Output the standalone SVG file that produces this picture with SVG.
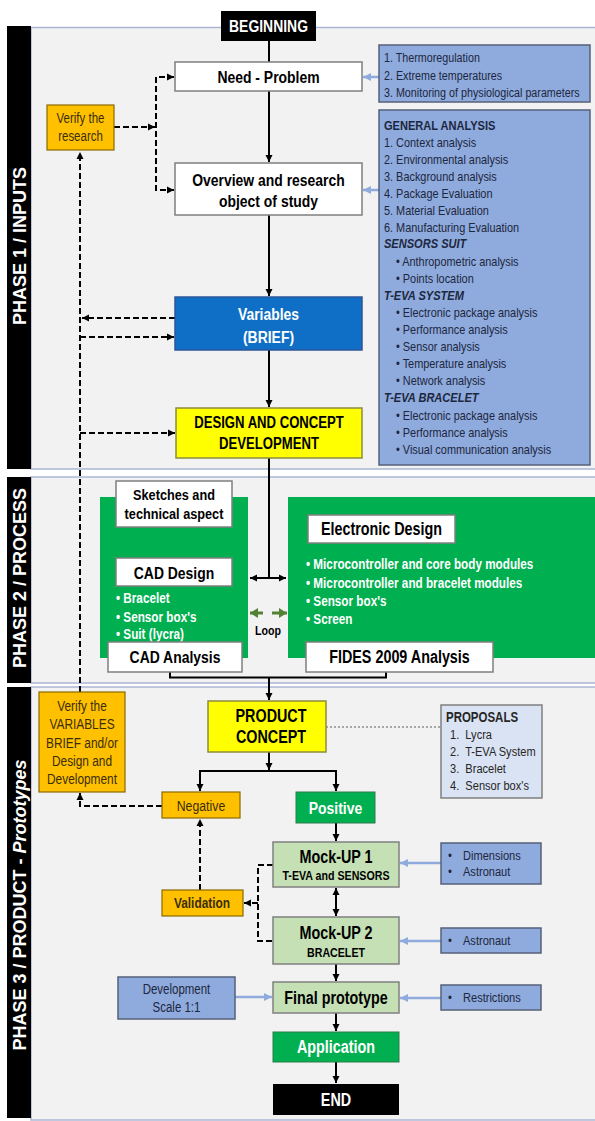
<svg xmlns="http://www.w3.org/2000/svg" width="595" height="1121" viewBox="0 0 595 1121">
<defs>
<style>
.n{font-family:'Liberation Sans',Arial,sans-serif;dominant-baseline:central}
.s{font-family:'Liberation Sans',Arial,sans-serif}
.b{font-weight:bold}
.i{font-style:italic}
.c{text-anchor:middle}
.m{dominant-baseline:central}
.wb{fill:#fff;stroke:#7f7f7f;stroke-width:1.5}
.blue{fill:#8faadc;stroke:#56607a;stroke-width:1.5}
.org{fill:#ffc000;stroke:#8a6a00;stroke-width:1.2}
.yel{fill:#ffff00;stroke:#8c8c3c;stroke-width:1.5}
.lg{fill:#c5e0b4;stroke:#808080;stroke-width:1.5}
.gr{fill:#00b050}
.ln{fill:none;stroke:#000;stroke-width:2}
.da{fill:none;stroke:#000;stroke-width:2;stroke-dasharray:6 3}
.bl{fill:none;stroke:#8faadc;stroke-width:2.5}
.lt{fill:#1c2740}
.ot{fill:#3a2e0a}
.w{fill:#fff}
</style>
<marker id="ak" markerUnits="userSpaceOnUse" markerWidth="8" markerHeight="8" refX="7" refY="4" orient="auto-start-reverse"><path d="M0,0.5 L7,4 L0,7.5 z" fill="#000"/></marker>
<marker id="ab" markerUnits="userSpaceOnUse" markerWidth="9" markerHeight="9" refX="8" refY="4.5" orient="auto"><path d="M0,0.5 L8,4.5 L0,8.5 z" fill="#8faadc"/></marker>
<marker id="ag" markerUnits="userSpaceOnUse" markerWidth="9" markerHeight="10" refX="8" refY="5" orient="auto"><path d="M0,0 L8,5 L0,10 z" fill="#548235"/></marker>
<marker id="aw" markerUnits="userSpaceOnUse" markerWidth="8" markerHeight="8" refX="7" refY="4" orient="auto-start-reverse"><path d="M0,0.5 L7,4 L0,7.5 z" fill="#fff"/></marker>
</defs>
<rect x="0" y="0" width="595" height="1121" fill="#fff"/>
<g id="panels">
<rect x="31" y="27.5" width="566" height="441.5" fill="#f2f2f2" stroke="#aab6d3" stroke-width="1.5"/>
<rect x="31" y="477" width="566" height="206" fill="#f2f2f2" stroke="#aab6d3" stroke-width="1.5"/>
<rect x="31" y="687" width="566" height="433" fill="#f2f2f2" stroke="#aab6d3" stroke-width="1.5"/>
<rect x="7" y="26" width="24" height="443" fill="#000"/>
<rect x="7" y="477" width="24" height="206" fill="#000"/>
<rect x="7" y="687" width="24" height="431" fill="#000"/>
<text class="s b c m" font-size="18" fill="#fff" transform="translate(20,246) rotate(-90)">PHASE 1 / INPUTS</text>
<text class="s b c m" font-size="18" fill="#fff" transform="translate(20,578) rotate(-90)">PHASE 2 / PROCESS</text>
<text class="s b c m" font-size="18" fill="#fff" transform="translate(20,905) rotate(-90)">PHASE 3 / PRODUCT - <tspan class="i">Prototypes</tspan></text>
</g>
<g id="connectors">
<path class="ln" d="M269,41 V62"/>
<path class="ln" d="M269,91 V162" marker-end="url(#ak)"/>
<path class="ln" d="M269,215 V296" marker-end="url(#ak)"/>
<path class="ln" d="M269,350 V407" marker-end="url(#ak)"/>
<path class="ln" d="M269,458 V578"/>
<path class="ln" d="M250,578 H286" marker-start="url(#ak)" marker-end="url(#ak)"/>
<path class="ln" d="M170,672 V677.5 H386 V672"/>
<path class="ln" d="M269,677.5 V700" marker-end="url(#ak)"/>
<path class="ln" d="M269,752 V770" marker-end="url(#ak)"/>
<path class="ln" d="M200,791 V771 H336 V791" marker-start="url(#ak)" marker-end="url(#ak)"/>
<path class="ln" d="M336,823 V841" marker-end="url(#ak)"/>
<path class="ln" d="M336,888 V916" marker-start="url(#ak)" marker-end="url(#ak)"/>
<path class="ln" d="M336,964 V981" marker-end="url(#ak)"/>
<path class="ln" d="M336,1013 V1031" marker-end="url(#ak)"/>
<path class="ln" d="M336,1062 V1083" marker-end="url(#ak)"/>
<path d="M175,528.5 V556" stroke="#fff" stroke-width="2" marker-start="url(#aw)" marker-end="url(#aw)"/>
<path d="M263,613 H250" stroke="#548235" stroke-width="3" marker-end="url(#ag)"/>
<path d="M272,613 H287" stroke="#548235" stroke-width="3" marker-end="url(#ag)"/>
<path class="da" d="M114,127 H155" marker-end="url(#ak)"/>
<path class="da" d="M174,77 H156 V190 H174" marker-start="url(#ak)" marker-end="url(#ak)"/>
<path class="da" d="M80,692 V152" marker-end="url(#ak)"/>
<path class="da" d="M175,318 H82" marker-end="url(#ak)"/>
<path class="da" d="M80,337 H174" marker-end="url(#ak)"/>
<path class="da" d="M80,433 H175" marker-end="url(#ak)"/>
<path class="da" d="M162,806 H80 V793" marker-end="url(#ak)"/>
<path class="da" d="M200,890 V819" marker-end="url(#ak)"/>
<path class="da" d="M273,865 H258 V941 H273"/>
<path class="da" d="M258,903 H244" marker-end="url(#ak)"/>
<path d="M326,727 H441" stroke="#a6a6a6" stroke-width="2" stroke-dasharray="2 2" fill="none"/>
<path class="bl" d="M379,77 H363" marker-end="url(#ab)"/>
<path class="bl" d="M379,190 H363" marker-end="url(#ab)"/>
<path class="bl" d="M441,863 H400" marker-end="url(#ab)"/>
<path class="bl" d="M441,941 H400" marker-end="url(#ab)"/>
<path class="bl" d="M441,998 H400" marker-end="url(#ab)"/>
<path class="bl" d="M235,997 H272" marker-end="url(#ab)"/>
</g>
<g id="beginning"><rect x="221" y="11" width="95" height="30" fill="#000"/><text class="n b c w" transform="translate(268.5,26) scale(.82,1)" font-size="17">BEGINNING</text></g>
<g id="need"><rect class="wb" x="175" y="62" width="187" height="29"/><text class="n b c" transform="translate(268.5,77) scale(.82,1)" font-size="17">Need - Problem</text></g>
<g id="overview"><rect class="wb" x="175" y="163" width="187" height="52"/><text class="n b c" transform="translate(268.5,180) scale(.82,1)" font-size="17">Overview and research</text><text class="n b c" transform="translate(268.5,200.5) scale(.82,1)" font-size="17">object of study</text></g>
<g id="variables"><rect x="175" y="297" width="187" height="53" fill="#0f6fc6" stroke="#2e5597" stroke-width="1.5"/><text class="n b c w" transform="translate(268.5,314) scale(.82,1)" font-size="17">Variables</text><text class="n b c w" transform="translate(268.5,336.5) scale(.82,1)" font-size="17">(BRIEF)</text></g>
<g id="design"><rect class="yel" x="176" y="408" width="186" height="50"/><text class="n b c" transform="translate(269,423) scale(.82,1)" font-size="16">DESIGN AND CONCEPT</text><text class="n b c" transform="translate(269,443.5) scale(.82,1)" font-size="16">DEVELOPMENT</text></g>
<g id="verify-research"><rect class="org" x="47" y="105" width="67" height="45"/><text class="n c ot" transform="translate(80.5,118) scale(.82,1)" font-size="14">Verify the</text><text class="n c ot" transform="translate(80.5,136) scale(.82,1)" font-size="14">research</text></g>
<g id="need-list"><rect class="blue" x="379" y="45" width="211" height="57"/>
<text class="n lt" transform="translate(384,57.5) scale(.82,1)" font-size="13.1">1. Thermoregulation</text>
<text class="n lt" transform="translate(384,75.5) scale(.82,1)" font-size="13.1">2. Extreme temperatures</text>
<text class="n lt" transform="translate(384,92.5) scale(.82,1)" font-size="13.1">3. Monitoring of physiological parameters</text></g>
<g id="analysis-list"><rect class="blue" x="379" y="110" width="211" height="355"/>
<text class="n lt b" transform="translate(384,125.5) scale(.82,1)" font-size="13.5">GENERAL ANALYSIS</text>
<text class="n lt" transform="translate(384,142.5) scale(.82,1)" font-size="13.3">1. Context analysis</text>
<text class="n lt" transform="translate(384,159.5) scale(.82,1)" font-size="13.3">2. Environmental analysis</text>
<text class="n lt" transform="translate(384,176.5) scale(.82,1)" font-size="13.3">3. Background analysis</text>
<text class="n lt" transform="translate(384,193.5) scale(.82,1)" font-size="13.3">4. Package Evaluation</text>
<text class="n lt" transform="translate(384,210.5) scale(.82,1)" font-size="13.3">5. Material Evaluation</text>
<text class="n lt" transform="translate(384,227.5) scale(.82,1)" font-size="13.3">6. Manufacturing Evaluation</text>
<text class="n lt b i" transform="translate(384,244) scale(.82,1)" font-size="13.5">SENSORS SUIT</text>
<text class="n lt" transform="translate(396,261.5) scale(.82,1)" font-size="13.3">• Anthropometric analysis</text>
<text class="n lt" transform="translate(396,278.5) scale(.82,1)" font-size="13.3">• Points location</text>
<text class="n lt b i" transform="translate(384,295.5) scale(.82,1)" font-size="13.5">T-EVA SYSTEM</text>
<text class="n lt" transform="translate(396,312.5) scale(.82,1)" font-size="13.3">• Electronic package analysis</text>
<text class="n lt" transform="translate(396,329.5) scale(.82,1)" font-size="13.3">• Performance analysis</text>
<text class="n lt" transform="translate(396,346.5) scale(.82,1)" font-size="13.3">• Sensor analysis</text>
<text class="n lt" transform="translate(396,363.5) scale(.82,1)" font-size="13.3">• Temperature analysis</text>
<text class="n lt" transform="translate(396,380.5) scale(.82,1)" font-size="13.3">• Network analysis</text>
<text class="n lt b i" transform="translate(384,398) scale(.82,1)" font-size="13.5">T-EVA BRACELET</text>
<text class="n lt" transform="translate(396,415.5) scale(.82,1)" font-size="13.3">• Electronic package analysis</text>
<text class="n lt" transform="translate(396,432.5) scale(.82,1)" font-size="13.3">• Performance analysis</text>
<text class="n lt" transform="translate(396,449.5) scale(.82,1)" font-size="13.3">• Visual communication analysis</text></g>
<g id="cad-block"><rect class="gr" x="100" y="497" width="148" height="161"/>
<text class="n b w" transform="translate(116,598) scale(.82,1)" font-size="14.3">• Bracelet</text>
<text class="n b w" transform="translate(116,617) scale(.82,1)" font-size="14.3">• Sensor box's</text>
<text class="n b w" transform="translate(116,634.5) scale(.82,1)" font-size="14.3">• Suit (lycra)</text></g>
<g id="sketches"><rect class="wb" x="116" y="481" width="116" height="46"/><text class="n b c" transform="translate(174,495) scale(.82,1)" font-size="15.5">Sketches and</text><text class="n b c" transform="translate(174,514) scale(.82,1)" font-size="15.5">technical aspect</text></g>
<g id="cad-design"><rect class="wb" x="116" y="558" width="116" height="28"/><text class="n b c" transform="translate(174,572.5) scale(.82,1)" font-size="17">CAD Design</text></g>
<g id="cad-analysis"><rect class="wb" x="108" y="642" width="134" height="30"/><text class="n b c" transform="translate(175,657) scale(.82,1)" font-size="17">CAD Analysis</text></g>
<g id="loop"><text class="n b c" transform="translate(268,631) scale(.82,1)" font-size="13">Loop</text></g>
<g id="electronic-block"><rect class="gr" x="288" y="497" width="309" height="161"/>
<text class="n b w" transform="translate(306,564) scale(.82,1)" font-size="14.3">• Microcontroller and core body modules</text>
<text class="n b w" transform="translate(306,583) scale(.82,1)" font-size="14.3">• Microcontroller and bracelet modules</text>
<text class="n b w" transform="translate(306,601) scale(.82,1)" font-size="14.3">• Sensor box's</text>
<text class="n b w" transform="translate(306,619) scale(.82,1)" font-size="14.3">• Screen</text></g>
<g id="electronic-design"><rect class="wb" x="308" y="515" width="147" height="28"/><text class="n b c" transform="translate(381.5,529) scale(.82,1)" font-size="17.5">Electronic Design</text></g>
<g id="fides"><rect class="wb" x="306" y="642" width="187" height="30"/><text class="n b c" transform="translate(399.5,657) scale(.82,1)" font-size="17.5">FIDES 2009 Analysis</text></g>
<g id="verify-variables"><rect class="org" x="39" y="692" width="86" height="100"/>
<text class="n c ot" transform="translate(82,706) scale(.82,1)" font-size="14.5">Verify the</text>
<text class="n c ot" transform="translate(82,724.5) scale(.82,1)" font-size="14.5">VARIABLES</text>
<text class="n c ot" transform="translate(82,743) scale(.82,1)" font-size="14.5">BRIEF and/or</text>
<text class="n c ot" transform="translate(82,761) scale(.82,1)" font-size="14.5">Design and</text>
<text class="n c ot" transform="translate(82,779) scale(.82,1)" font-size="14.5">Development</text></g>
<g id="product"><rect class="yel" x="208" y="701" width="118" height="51"/><text class="n b c" transform="translate(271,716) scale(.82,1)" font-size="17.5">PRODUCT</text><text class="n b c" transform="translate(271,737) scale(.82,1)" font-size="17.5">CONCEPT</text></g>
<g id="proposals"><rect x="441" y="705" width="101" height="93" fill="#dae3f3" stroke="#7f7f7f" stroke-width="1.5"/>
<text class="n b" fill="#262626" transform="translate(446,717) scale(.82,1)" font-size="14">PROPOSALS</text>
<text class="n" fill="#262626" transform="translate(450,735) scale(.82,1)" font-size="13.5" xml:space="preserve">1.  Lycra</text>
<text class="n" fill="#262626" transform="translate(450,752) scale(.82,1)" font-size="13.5" xml:space="preserve">2.  T-EVA System</text>
<text class="n" fill="#262626" transform="translate(450,769) scale(.82,1)" font-size="13.5" xml:space="preserve">3.  Bracelet</text>
<text class="n" fill="#262626" transform="translate(450,786) scale(.82,1)" font-size="13.5" xml:space="preserve">4.  Sensor box's</text></g>
<g id="negative"><rect class="org" x="162" y="792" width="78" height="26"/><text class="n c ot" transform="translate(201,806) scale(.82,1)" font-size="15">Negative</text></g>
<g id="positive"><rect x="296" y="792" width="79" height="31" fill="#00b050" stroke="#2e7d4a" stroke-width="1"/><text class="n b c w" transform="translate(335.5,807.5) scale(.82,1)" font-size="17">Positive</text></g>
<g id="mockup1"><rect class="lg" x="273" y="842" width="126" height="45"/><text class="n b c" transform="translate(336,857) scale(.82,1)" font-size="17.5">Mock-UP 1</text><text class="n b c" transform="translate(336,876) scale(.82,1)" font-size="13">T-EVA and SENSORS</text></g>
<g id="dimensions"><rect class="blue" x="441" y="843" width="100" height="41"/><text class="n lt" transform="translate(448,856) scale(.82,1)" font-size="13.5">•</text><text class="n lt" transform="translate(463,856) scale(.82,1)" font-size="13.5">Dimensions</text><text class="n lt" transform="translate(448,872) scale(.82,1)" font-size="13.5">•</text><text class="n lt" transform="translate(463,872) scale(.82,1)" font-size="13.5">Astronaut</text></g>
<g id="validation"><rect class="org" x="162" y="890" width="81" height="26"/><text class="n b c ot" transform="translate(202,903.5) scale(.82,1)" font-size="14.5">Validation</text></g>
<g id="mockup2"><rect class="lg" x="273" y="917" width="126" height="47"/><text class="n b c" transform="translate(336,933) scale(.82,1)" font-size="17.5">Mock-UP 2</text><text class="n b c" transform="translate(336,953) scale(.82,1)" font-size="13">BRACELET</text></g>
<g id="astronaut"><rect class="blue" x="441" y="928" width="100" height="25"/><text class="n lt" transform="translate(448,941) scale(.82,1)" font-size="13.5">•</text><text class="n lt" transform="translate(463,941) scale(.82,1)" font-size="13.5">Astronaut</text></g>
<g id="development"><rect class="blue" x="118" y="977" width="117" height="42"/><text class="n lt c" transform="translate(176.5,989) scale(.82,1)" font-size="14">Development</text><text class="n lt c" transform="translate(176.5,1007) scale(.82,1)" font-size="14">Scale 1:1</text></g>
<g id="final"><rect class="lg" x="273" y="982" width="126" height="31"/><text class="n b c" transform="translate(336,998) scale(.82,1)" font-size="17.5">Final prototype</text></g>
<g id="restrictions"><rect class="blue" x="441" y="985" width="100" height="25"/><text class="n lt" transform="translate(448,998) scale(.82,1)" font-size="13.5">•</text><text class="n lt" transform="translate(463,998) scale(.82,1)" font-size="13.5">Restrictions</text></g>
<g id="application"><rect x="273" y="1032" width="126" height="30" fill="#00b050" stroke="#2e7d4a" stroke-width="1"/><text class="n b c w" transform="translate(336,1047) scale(.82,1)" font-size="17.5">Application</text></g>
<g id="end"><rect x="273" y="1084" width="126" height="31" fill="#000"/><text class="n b c w" transform="translate(336,1100) scale(.82,1)" font-size="17.5">END</text></g>
</svg>
